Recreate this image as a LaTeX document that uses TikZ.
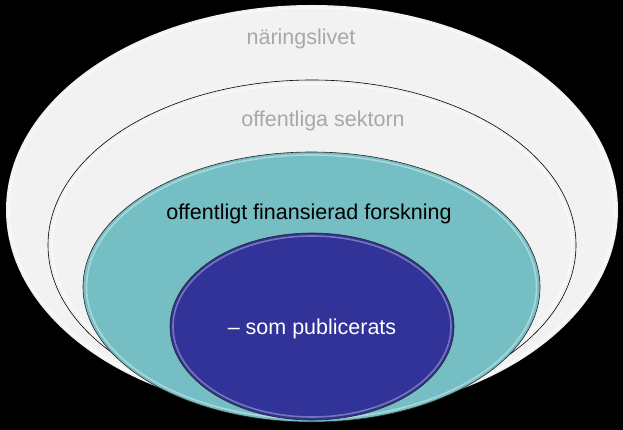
\documentclass[tikz,border=0pt]{standalone}
\usepackage{fontspec}
\setmainfont{Liberation Sans}
\usetikzlibrary{shapes.geometric,positioning}

\definecolor{palegray}{RGB}{242,242,242}
\definecolor{labelgray}{RGB}{168,168,168}
\definecolor{tealfill}{RGB}{116,190,196}
\definecolor{bluefill}{RGB}{50,51,152}

\tikzset{
  ring/.style={ellipse, inner sep=0pt, line width=0.6pt},
  hilite/.style={line width=1.6pt, opacity=0.55},
  lbl/.style={font=\fontsize{21.5}{24}\selectfont, inner sep=0pt}
}

\begin{document}
\begin{tikzpicture}[x=1pt,y=-1pt]
  \fill[black] (0,0) rectangle (623,430);
  \useasboundingbox (0,0) rectangle (623,430);

  % the four stacked rings, outermost first
  \node[ring, fill=palegray, minimum width=612pt, minimum height=410pt] (naering) at (312,210) {};
  \draw[hilite, white] (naering.center) ellipse [x radius=303pt, y radius=202pt];
  \node[ring, fill=palegray, draw=black, minimum width=528pt, minimum height=330pt] (sektor) at (312,245) {};
  \draw[hilite, white] (sektor.center) ellipse [x radius=260pt, y radius=161pt];
  \node[ring, fill=tealfill, draw=black!85, minimum width=457pt, minimum height=270pt] (forskning) at (311.5,287) {};
  \draw[hilite, white!70!tealfill] (forskning.center) ellipse [x radius=225pt, y radius=132pt];
  \node[ring, fill=bluefill, draw=black!85, minimum width=284pt, minimum height=187pt] (publ) at (312,326.5) {};
  \draw[hilite, white!60!bluefill] (publ.center) ellipse [x radius=139pt, y radius=90.5pt];

  % labels
  \node[lbl, text=labelgray, below=40pt of naering.north, anchor=base, xshift=-11pt] (naeringtxt) {näringslivet};
  \node[lbl, text=labelgray, below=46.5pt of sektor.north, anchor=base, xshift=11pt] (sektortxt) {offentliga sektorn};
  \node[lbl, text=black, below=68pt of forskning.north, anchor=base, xshift=-2.5pt] (forskningtxt) {offentligt finansierad forskning};
  \node[lbl, text=white, below=102pt of publ.north, anchor=base] (publtxt) {– som publicerats};
\end{tikzpicture}
\end{document}
